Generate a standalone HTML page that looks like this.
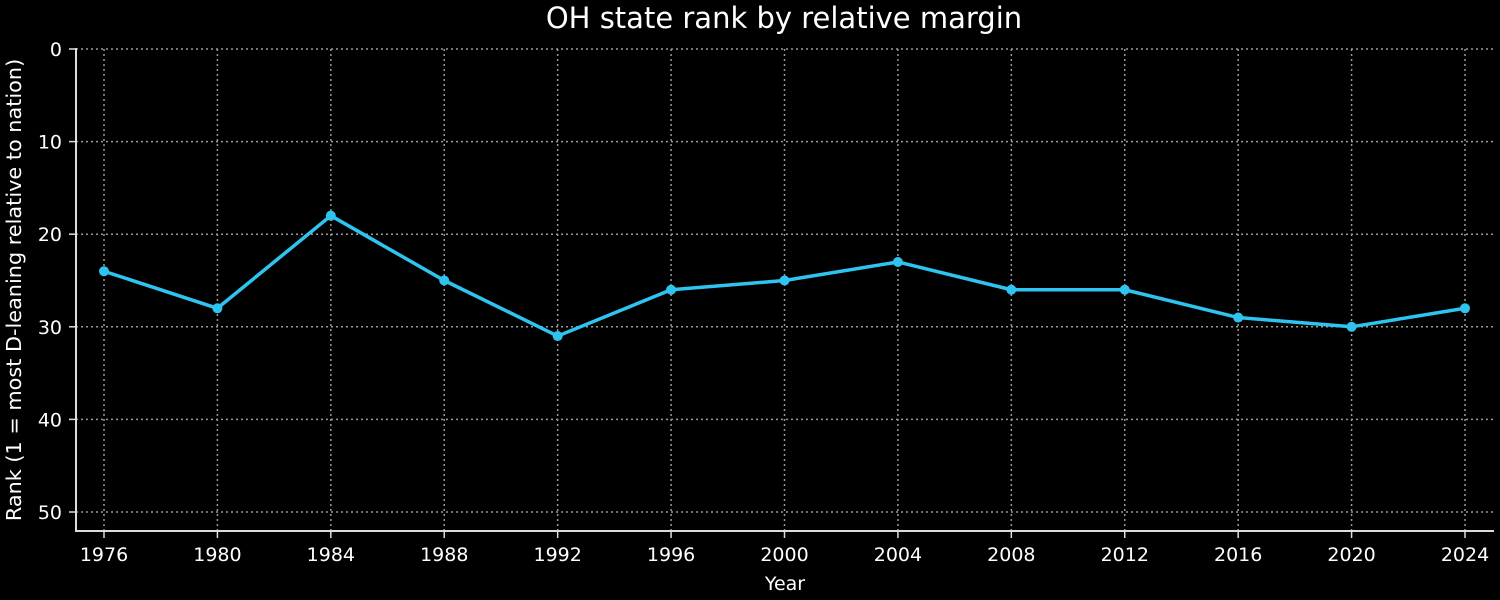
<!DOCTYPE html>
<html><head><meta charset="utf-8"><style>
html,body{margin:0;padding:0;background:#000;}
svg{display:block;font-family:"DejaVu Sans","Liberation Sans",sans-serif;}
</style></head><body>
<svg id="chart" width="1500" height="600" viewBox="0 0 1500 600">
<rect width="1500" height="600" fill="#000"/>
<text x="784" y="28" fill="#fff" font-size="29" text-anchor="middle">OH state rank by relative margin</text>
<text x="785" y="590" fill="#fff" font-size="19" text-anchor="middle">Year</text>
<text transform="translate(21,290) rotate(-90)" fill="#fff" font-size="20.8" text-anchor="middle">Rank (1 = most D-leaning relative to nation)</text>
<g id="grid"></g><g id="axes"></g><g id="series"></g>
</svg>
<script>
const years = [1976,1980,1984,1988,1992,1996,2000,2004,2008,2012,2016,2020,2024];
const ranks = [24,28,18,25,31,26,25,23,26,26,29,30,28];
const yTicks = [0,10,20,30,40,50];
const NS="http://www.w3.org/2000/svg";
const xs = y => 104 + (y-1976)*(1465-104)/48;
const ys = v => 49 + v*(512-49)/50;
function mk(tag, attrs, parent){const e=document.createElementNS(NS,tag);for(const k in attrs)e.setAttribute(k,attrs[k]);document.getElementById(parent).appendChild(e);return e;}
yTicks.forEach(t=>{
  const g=mk('line',{x1:76,x2:1493,y1:ys(t),y2:ys(t),stroke:'#999','stroke-width':1.5,'stroke-dasharray':'2,3'},'grid');
  
  
  const tk=mk('line',{x1:69,x2:76,y1:ys(t),y2:ys(t),stroke:'#ddd','stroke-width':1.5},'axes');
  
  
  const tx=mk('text',{x:62,y:ys(t)+7,fill:'#fff','font-size':19,'text-anchor':'end'},'axes');
  tx.textContent=t;
  
  
});
years.forEach(y=>{
  const g=mk('line',{x1:xs(y),x2:xs(y),y1:49,y2:531,stroke:'#999','stroke-width':1.5,'stroke-dasharray':'2,3'},'grid');
  
  
  const tk=mk('line',{x1:xs(y),x2:xs(y),y1:531,y2:538,stroke:'#ddd','stroke-width':1.5},'axes');
  
  
  const tx=mk('text',{x:xs(y),y:561,fill:'#fff','font-size':19,'text-anchor':'middle'},'axes');
  tx.textContent=y;
  
  
});
const ls=mk('line',{x1:76,x2:76,y1:48,y2:532,stroke:'#ddd','stroke-width':2},'axes');


const bs=mk('line',{x1:75,x2:1494,y1:531,y2:531,stroke:'#ddd','stroke-width':2},'axes');


const pl=mk('polyline',{points:years.map((y,i)=>xs(y)+','+ys(ranks[i])).join(' '),fill:'none',stroke:'#2ec4ef','stroke-width':3.5,'stroke-linejoin':'round'},'series');


years.forEach((y,i)=>{
  const c=mk('circle',{cx:xs(y),cy:ys(ranks[i]),r:5,fill:'#2ec4ef'},'series');
  
  
});
</script>
</body></html>
